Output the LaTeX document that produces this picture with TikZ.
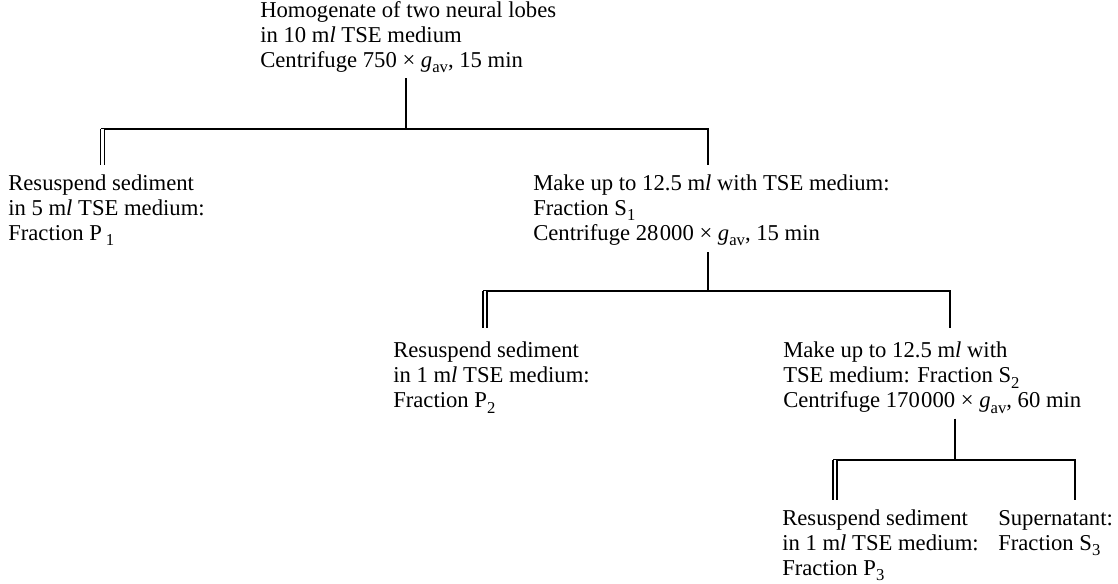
\documentclass[tikz,border=0pt]{standalone}
\usepackage{fontspec}
\setmainfont{Liberation Serif}
\usepackage{tikz}
\usetikzlibrary{positioning}
\newcommand{\lsub}[1]{\raisebox{-0.5ex}{\fontsize{12.5}{12.5}\selectfont #1}}
\newcommand{\ml}{m\textit{l}}
\newcommand{\gav}{\textit{g}\lsub{av}}
\tikzstyle{block} = [anchor=north west, inner sep=0pt, align=left,
font=\fontsize{17}{18.8}\selectfont]
\tikzstyle{line} = [draw, line width=0.9pt]
\tikzstyle{pellet} = [draw, line width=0.8pt, double, double distance=2.2pt]

\begin{document}
\begin{tikzpicture}[x=0.75pt, y=-0.75pt]
    \useasboundingbox (0,0) rectangle (1118,583);
    % nodes
    \node (homog) [block] at (260,-0.5) {\strut Homogenate of two neural lobes\\ in 10 \ml{} TSE medium\\ Centrifuge 750 × \gav, 15 min};
    \node (pone) [block] at (8,172.5) {\strut Resuspend sediment\\ in 5 \ml{} TSE medium:\\ Fraction P\,\lsub{1}};
    \node (sone) [block] at (533,172.5) {\strut Make up to 12.5 \ml{} with TSE medium:\\ Fraction S\lsub{1}\\ Centrifuge 28\kern1pt000 × \gav, 15 min};
    \node (ptwo) [block] at (393,340) {\strut Resuspend sediment\\ in 1 \ml{} TSE medium:\\ Fraction P\lsub{2}};
    \node (stwo) [block] at (783,340) {\strut Make up to 12.5 \ml{} with\\ TSE medium: Fraction S\lsub{2}\\ Centrifuge 170\kern1pt000 × \gav, 60 min};
    \node (pthree) [block] at (782,507.5) {\strut Resuspend sediment\\ in 1 \ml{} TSE medium:\\ Fraction P\lsub{3}};
    \node (sthree) [block] at (998,507.5) {\strut Supernatant:\\ Fraction S\lsub{3}};

    % junctions
    \coordinate (jone) at (406,129);
    \coordinate (jtwo) at (708,291);
    \coordinate (jthree) at (955,460);
    \coordinate (lone) at (102.5,165);
    \coordinate (rone) at (708,165);
    \coordinate (ltwo) at (485,328);
    \coordinate (rtwo) at (950,328);
    \coordinate (lthree) at (835,500);
    \coordinate (rthree) at (1075,500);

    % edges
    \path [line] (homog.south -| jone) ++(0,5) -- (jone);
    \path [line] (lone |- jone) ++(-2,0) -- (rone |- jone) -- (rone);
    \path [pellet] (lone |- jone) -- (lone);
    \path [line] (sone.south -| jtwo) ++(0,6) -- (jtwo);
    \path [line] (ltwo |- jtwo) ++(-2,0) -- (rtwo |- jtwo) -- (rtwo);
    \path [pellet] (ltwo |- jtwo) -- (ltwo);
    \path [line] (stwo.south -| jthree) ++(0,5) -- (jthree);
    \path [line] (lthree |- jthree) ++(-2,0) -- (rthree |- jthree) -- (rthree);
    \path [pellet] (lthree |- jthree) -- (lthree);

\end{tikzpicture}
\end{document}
